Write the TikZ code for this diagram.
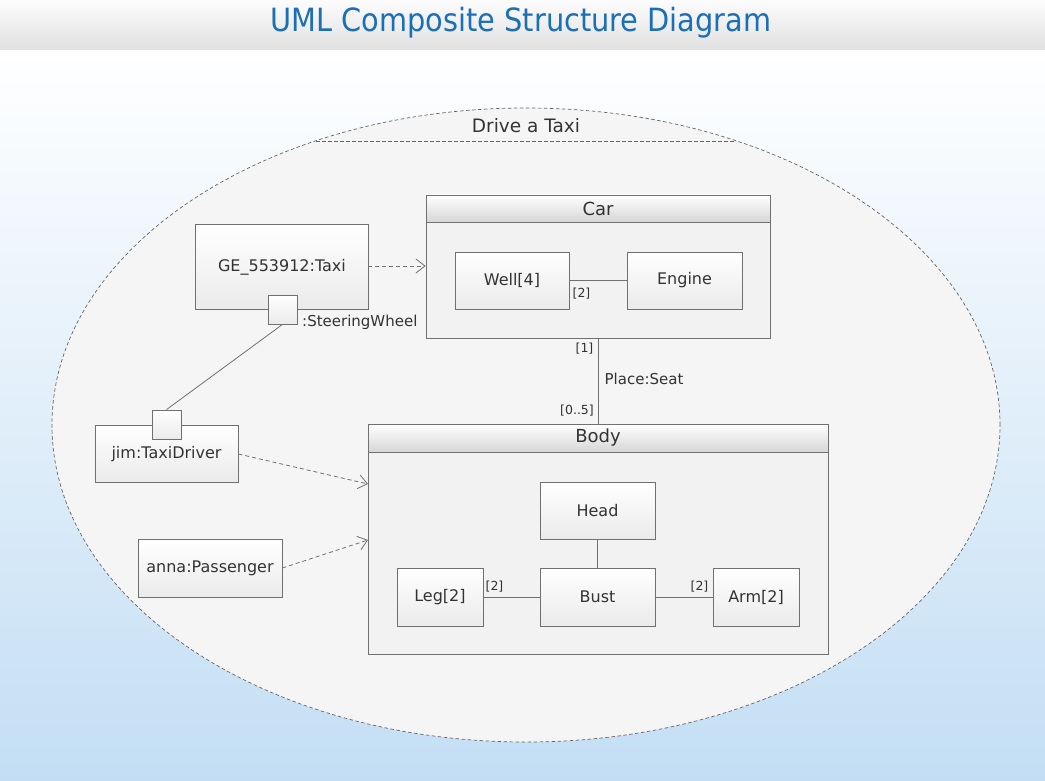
\documentclass[tikz,border=0pt]{standalone}
\usepackage{fontspec}
\setmainfont{DejaVu Sans}
\newfontfamily\titlefont{DejaVu Sans Condensed}
\usetikzlibrary{shapes.geometric,arrows.meta}
\definecolor{titleblue}{HTML}{1A6FB5}
\definecolor{bgblue}{HTML}{C3DEF4}
\definecolor{linegray}{HTML}{707070}
\definecolor{txt}{HTML}{333333}
\tikzset{
  part/.style={draw=linegray, line width=0.8pt, top color=white, bottom color=black!8, inner sep=0pt, text=txt, font=\fontsize{16}{18}\selectfont},
  container/.style={draw=linegray, line width=0.8pt, fill=black!5, inner sep=0pt},
  header/.style={draw=linegray, line width=0.8pt, top color=white, bottom color=black!16, inner sep=0pt, text=txt, font=\fontsize{18}{20}\selectfont},
  port/.style={draw=linegray, line width=0.8pt, top color=white, bottom color=black!8, minimum width=29, minimum height=29, inner sep=0pt},
  conn/.style={draw=linegray, line width=0.8pt},
  dep/.style={draw=linegray, line width=0.8pt, dashed, dash pattern=on 4pt off 3pt, -{Straight Barb[length=9pt, width=14pt, line width=0.8pt]}},
  mult/.style={text=txt, font=\fontsize{12.5}{14}\selectfont, inner sep=0pt},
  lbl/.style={text=txt, font=\fontsize{15}{17}\selectfont, inner sep=0pt},
  scopeline/.style={draw=black!60, dashed, dash pattern=on 3.5pt off 2.5pt, line width=0.7pt},
}
\begin{document}
\begin{tikzpicture}[x=1pt, y=-1pt]
\useasboundingbox (0,0) rectangle (1045,781);
% background
\shade[top color=white, bottom color=bgblue] (0,50) rectangle (1045,781);
\shade[top color=black!1, bottom color=black!12] (0,0) rectangle (1045,50);
\draw[white, line width=1pt] (0,50.5) -- (1045,50.5);
\node[font=\titlefont\fontsize{32}{36}\selectfont, text=titleblue] (title) at (521,23) {UML Composite Structure Diagram};
% collaboration ellipse
\node[ellipse, scopeline, fill=black!4, minimum width=948, minimum height=634, inner sep=0pt] (collab) at (526,425) {};
\coordinate (chordL) at (316,141);
\coordinate (chordR) at (736,141);
\draw[scopeline] (chordL) -- (chordR);
\node[font=\fontsize{18.5}{20}\selectfont, text=txt] (collabname) at (526,126) {Drive a Taxi};
% Car
\node[container, minimum width=344, minimum height=143] (car) at (598,266.5) {};
\node[header, minimum width=344, minimum height=27, anchor=north] (carhead) at (car.north) {Car};
\node[part, minimum width=114, minimum height=57] (well) at (512,280.5) {Well[4]};
\node[part, minimum width=115, minimum height=57] (engine) at (684.5,280.5) {Engine};
\draw[conn] (well) -- (engine);
\node[mult] (m1) at (581.5,294) {[2]};
% Taxi
\node[part, minimum width=173, minimum height=85] (taxi) at (281.5,266.5) {};
\node[lbl, font=\fontsize{16}{18}\selectfont] (taxilbl) at (282,267) {GE\_553912:Taxi};
\node[port] (sw) at (282.5,309.5) {};
\node[lbl, anchor=west] (swlbl) at (302,322) {:SteeringWheel};
\draw[dep] (taxi.east |- 0,266) -- (car.west |- 0,266);
% Body
\node[container, minimum width=460, minimum height=230] (body) at (598,539) {};
\node[header, minimum width=460, minimum height=28, anchor=north] (bodyhead) at (body.north) {Body};
\node[part, minimum width=115, minimum height=57] (head) at (597.5,510.5) {Head};
\node[part, minimum width=115, minimum height=58] (bust) at (597.5,597) {Bust};
\node[part, minimum width=86, minimum height=58] (leg) at (440,597) {Leg[2]};
\node[part, minimum width=86, minimum height=58] (arm) at (756,597) {Arm[2]};
\draw[conn] (head) -- (bust);
\draw[conn] (leg) -- (bust);
\draw[conn] (bust) -- (arm);
\node[mult] (m2) at (494.5,587) {[2]};
\node[mult] (m3) at (699.5,587) {[2]};
% Car-Body
\draw[conn] (car.south -| 598,0) -- (bodyhead.north -| 598,0);
\node[mult] (m4) at (584.5,349) {[1]};
\node[mult] (m5) at (577,411) {[0..5]};
\node[lbl] (seat) at (644,379) {Place:Seat};
% jim
\node[part, minimum width=143, minimum height=57] (jim) at (166.5,453.5) {};
\node[port] (jp) at (166.5,424.5) {};
\node[lbl, font=\fontsize{16}{18}\selectfont] (jimlbl) at (166.5,454) {jim:TaxiDriver};
\draw[conn] (sw.south) -- (jp.north);
% anna
\node[part, minimum width=144, minimum height=58] (anna) at (210,568) {anna:Passenger};
\coordinate (bodyin1) at (368,484);
\coordinate (bodyin2) at (368,540);
\draw[dep] (jim.east |- 0,454) -- (bodyin1);
\draw[dep] (anna.east) -- (bodyin2);
\end{tikzpicture}
\end{document}
